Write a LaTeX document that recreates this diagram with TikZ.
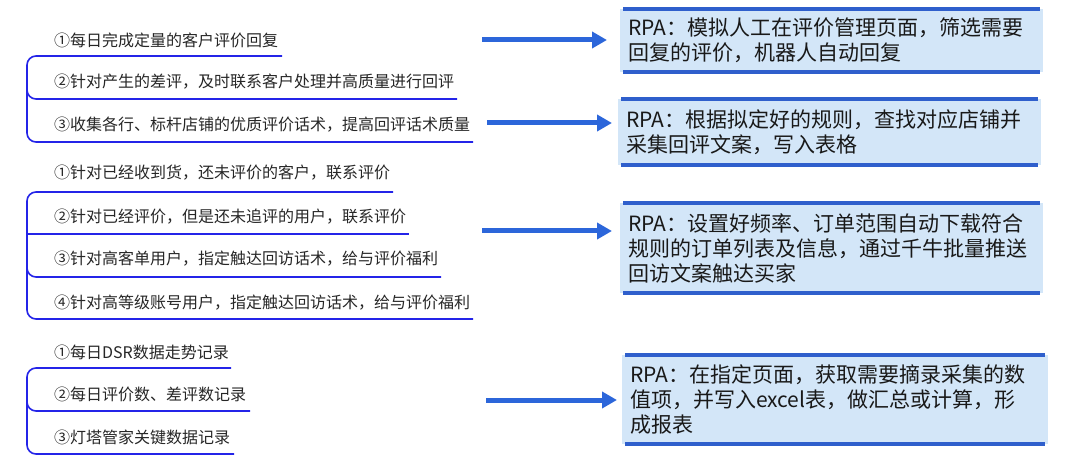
\documentclass[tikz,border=0pt]{standalone}
\usepackage{fontspec}
\setmainfont{Noto Sans CJK SC}
\usetikzlibrary{arrows.meta,positioning}

\definecolor{branchblue}{HTML}{2424E8}
\definecolor{arrowblue}{HTML}{2C66DA}
\definecolor{barblue}{HTML}{2F5FCC}
\definecolor{boxfill}{HTML}{D3E6F8}
\definecolor{textgray}{HTML}{262626}

\tikzset{
  item/.style={anchor=west,inner sep=0pt,text=textgray,font=\fontsize{16pt}{19pt}\selectfont},
  branch/.style={draw=branchblue,line width=1.6pt,rounded corners=9pt},
  rpabox/.style={anchor=west,fill=boxfill,inner xsep=8pt,inner ysep=0pt,text width=407pt,align=left,
    font=\fontsize{21pt}{25pt}\selectfont,text=black!90},
  bar/.style={draw=barblue,line width=3.5pt},
  flow/.style={draw=arrowblue,line width=5pt,-{Triangle[length=15pt,width=16pt]}}
}

\begin{document}
\begin{tikzpicture}[x=1pt,y=-1pt]
  \useasboundingbox (0,0) rectangle (1080,468);

  % left items
  \node[item] (g1a) at (54,40)  {①每日完成定量的客户评价回复};
  \node[item] (g1b) at (54,82)  {②针对产生的差评，及时联系客户处理并高质量进行回评};
  \node[item] (g1c) at (54,125) {③收集各行、标杆店铺的优质评价话术，提高回评话术质量};

  \node[item] (g2a) at (54,173) {①针对已经收到货，还未评价的客户，联系评价};
  \node[item] (g2b) at (54,217) {②针对已经评价，但是还未追评的用户，联系评价};
  \node[item] (g2c) at (54,259) {③针对高客单用户，指定触达回访话术，给与评价福利};
  \node[item] (g2d) at (54,303) {④针对高等级账号用户，指定触达回访话术，给与评价福利};

  \node[item] (g3a) at (54,352) {①每日DSR数据走势记录};
  \node[item] (g3b) at (54,394) {②每日评价数、差评数记录};
  \node[item] (g3c) at (54,437) {③灯塔管家关键数据记录};

  % branches
  \draw[branch] (27,99) |- (282,56);
  \draw[branch] (27,80) |- (457,99);
  \draw[branch] (27,99) |- (473,142);

  \draw[branch] (27,256) |- (393,192);
  \draw[branch] (27,234) -- (409,234);
  \draw[branch] (27,256) |- (441,277);
  \draw[branch] (27,256) |- (473,319);

  \draw[branch] (27,411) |- (231,368);
  \draw[branch] (27,395) |- (250,411);
  \draw[branch] (27,411) |- (234,454);

  % rpa boxes
  \node[rpabox,minimum height=63pt] (b1) at (620,40.5)
    {RPA：模拟人工在评价管理页面，筛选需要\\回复的评价，机器人自动回复};
  \node[rpabox,minimum height=66pt] (b2) at (618,132)
    {RPA：根据拟定好的规则，查找对应店铺并\\采集回评文案，写入表格};
  \node[rpabox,minimum height=90pt] (b3) at (620,248)
    {RPA：设置好频率、订单范围自动下载符合\\规则的订单列表及信息，通过千牛批量推送\\回访文案触达买家};
  \node[rpabox,minimum height=89pt,text width=410pt] (b4) at (622,399.5)
    {RPA：在指定页面，获取需要摘录采集的数\\值项，并写入excel表，做汇总或计算，形\\成报表};

  \foreach \b in {b1,b2,b3,b4}{
    \draw[bar] ([xshift=3pt]\b.north west) -- ([xshift=-3pt]\b.north east);
    \draw[bar] ([xshift=3pt]\b.south west) -- ([xshift=-3pt]\b.south east);
  }

  % arrows
  \coordinate (a1) at (482,40);
  \coordinate (a2) at (487,123);
  \coordinate (a3) at (482,231);
  \coordinate (a4) at (486,400);
  \draw[flow,shorten >=13pt] (a1) -- (a1 -| b1.west);
  \draw[flow,shorten >=6pt]  (a2) -- (a2 -| b2.west);
  \draw[flow,shorten >=8pt]  (a3) -- (a3 -| b3.west);
  \draw[flow,shorten >=5pt]  (a4) -- (a4 -| b4.west);
\end{tikzpicture}
\end{document}
